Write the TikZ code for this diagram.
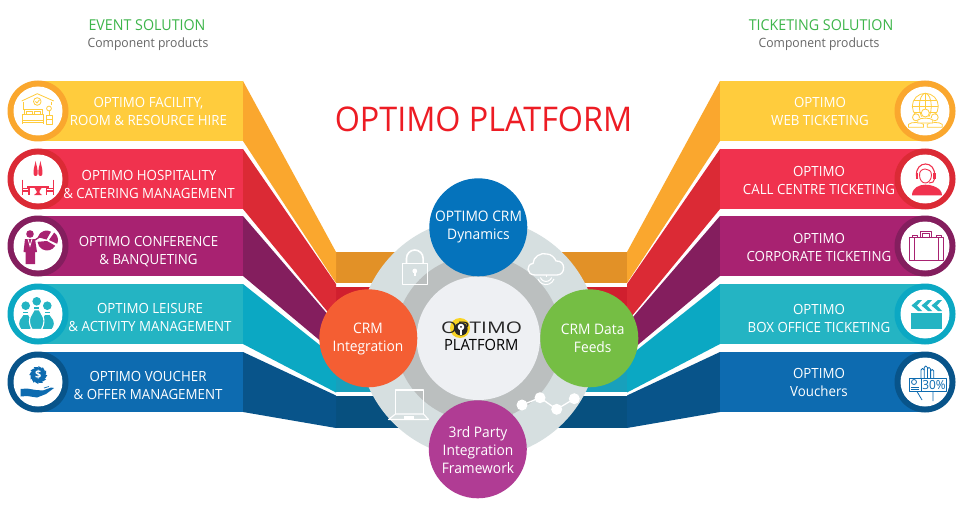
\documentclass[tikz,border=0pt]{standalone}
\usepackage{fontspec}
\setmainfont{Open Sans}
\newfontfamily\narrowfont[FakeStretch=0.95]{Open Sans}
\newfontfamily\logofont[FakeStretch=1.3]{Open Sans}
\usetikzlibrary{calc}
\definecolor{yband}{HTML}{FFCC3D}\definecolor{yside}{HTML}{FAA72E}\definecolor{yfront}{HTML}{E29127}
\definecolor{rband}{HTML}{F0324E}\definecolor{rside}{HTML}{DB2A35}\definecolor{rfront}{HTML}{D01F2E}
\definecolor{pband}{HTML}{A82271}\definecolor{pside}{HTML}{841E5E}\definecolor{pfront}{HTML}{7A1C58}
\definecolor{tband}{HTML}{24B4C3}\definecolor{tside}{HTML}{0BA8C3}\definecolor{tfront}{HTML}{18A0BC}
\definecolor{bband}{HTML}{0D6BB0}\definecolor{bside}{HTML}{08548A}\definecolor{bfront}{HTML}{07507F}
\definecolor{headgreen}{HTML}{3DB54A}\definecolor{headgray}{HTML}{666666}
\definecolor{titlered}{HTML}{ED1C24}
\definecolor{ringouter}{HTML}{D6DFE0}\definecolor{ringmid}{HTML}{BBBFBF}\definecolor{ringinner}{HTML}{EEF0F3}
\definecolor{sattop}{HTML}{0573BC}\definecolor{satleft}{HTML}{F45E33}\definecolor{satright}{HTML}{75BE44}\definecolor{satbottom}{HTML}{B03C94}
\definecolor{logoyellow}{HTML}{F9D423}
\tikzset{
  bandtext/.style={text=white,align=center,font=\narrowfont\fontsize{14}{18}\selectfont,inner sep=0pt},
  sattext/.style={text=white,align=center,font=\narrowfont\fontsize{14.5}{18}\selectfont,inner sep=0pt},
  headtitle/.style={text=headgreen,font=\narrowfont\fontsize{15}{17}\selectfont,inner sep=0pt},
  headsub/.style={text=headgray,font=\narrowfont\fontsize{12.8}{15}\selectfont,inner sep=0pt},
  iconline/.style={line width=0.8pt,line join=round},
}
\begin{document}
\begin{tikzpicture}[x=1pt,y=-1pt]
\useasboundingbox (0,0) rectangle (960,505);
\fill[white] (0,0) rectangle (960,505);
% ribbons, left then mirrored
\foreach \m/\xs/\xf in {0/0pt/1,1/963pt/-1}{
\begin{scope}[xshift=\xs,xscale=\xf]
\foreach \t/\st/\sb/\ft/\fb/\cc in {
  81/252/283/252/283/y,
  149/284/322/287/322/r,
  216/324/354/324/354/p,
  284/358/392.5/358/392/t,
  352/395.5/428/395.5/428/b}{
  \fill[\cc front] (336,\ft) rectangle (440,\fb);
  \fill[\cc side] (243,\t) -- (336,\st) -- (336,\sb) -- (243,\t+60) -- cycle;
  \fill[\cc band] (38,\t) rectangle (243,\t+60);
  \fill[\cc side] (38,\t+30) circle[radius=30.5];
  \fill[white] (38,\t+30) circle[radius=24.5];
}
\end{scope}}
% titles
\node[headtitle] (evt) at (147,25) {EVENT SOLUTION};
\node[headsub] (evtsub) at (148,44.5) {Component products};
\node[headtitle] (tkt) at (821,25) {TICKETING SOLUTION};
\node[headsub] (tktsub) at (819,44.5) {Component products};
\node[text=titlered,font=\narrowfont\fontsize{34}{36}\selectfont,inner sep=0pt] (title) at (483.5,119) {OPTIMO PLATFORM};
% band labels
\node[bandtext] (l1) at (148.5,111) {OPTIMO FACILITY,\\ROOM \& RESOURCE HIRE};
\node[bandtext] (l2) at (149,184.5) {OPTIMO HOSPITALITY\\\& CATERING MANAGEMENT};
\node[bandtext] (l3) at (148.5,252) {OPTIMO CONFERENCE\\\& BANQUETING};
\node[bandtext] (l4) at (150,317) {OPTIMO LEISURE\\\& ACTIVITY MANAGEMENT};
\node[bandtext] (l5) at (148,385) {OPTIMO VOUCHER\\\& OFFER MANAGEMENT};
\node[bandtext] (r1) at (820,111) {OPTIMO\\WEB TICKETING};
\node[bandtext] (r2) at (819,180.5) {OPTIMO\\CALL CENTRE TICKETING};
\node[bandtext] (r3) at (819,247) {OPTIMO\\CORPORATE TICKETING};
\node[bandtext] (r4) at (819,318) {OPTIMO\\BOX OFFICE TICKETING};
\node[bandtext] (r5) at (819,382) {OPTIMO\\Vouchers};
% hub
\fill[ringouter] (478.3,338.3) circle[radius=120];
\fill[ringmid] (478.3,338.3) circle[radius=83];
\fill[ringinner] (478.3,338.3) circle[radius=61.7];
\fill[sattop] (478.3,227.3) circle[radius=49];
\fill[satleft] (368.3,338.3) circle[radius=49];
\fill[satright] (589.3,338.3) circle[radius=49];
\fill[satbottom] (477.8,449.3) circle[radius=49];
\node[sattext] (s1) at (478.5,227) {OPTIMO CRM\\Dynamics};
\node[sattext] (s2) at (368,339) {CRM\\Integration};
\node[sattext] (s3) at (592.7,338) {CRM Data\\Feeds};
\node[sattext] (s4) at (478,450) {3rd Party\\Integration\\Framework};
% logo
\fill[logoyellow] (460,328) circle[radius=10];
\node[text=black!85,font=\logofont\fontsize{16}{18}\selectfont,inner sep=0pt] (logo) at (481.5,328) {OPTIMO};
\fill[black!85] (461,329) circle[radius=6.6];
\fill[white] (461,327) circle[radius=3.3];
\fill[white] (459.9,327) rectangle (462.1,335);
\fill[black!85] (461,326.8) circle[radius=1];
\node[text=black,font=\narrowfont\fontsize{15.5}{18}\selectfont,inner sep=0pt] (plat) at (481.3,344.5) {PLATFORM};
% lock
\draw[white,line width=1.1pt,line join=round] (402.3,263.3) rectangle (427.3,284.3);
\draw[white,line width=1.6pt] (406.5,263) -- (406.5,258.3) arc[start angle=180,end angle=360,radius=8.3] -- (423.1,263);
\fill[white] (414.8,271) circle[radius=2.4];
\fill[white] (413.6,271) rectangle (416,276);
% cloud
\draw[white,line width=1.3pt,line join=round] (535,275) .. controls (526,275) and (526,264) .. (533,263.5) .. controls (533,257) and (541,252) .. (547,254) .. controls (551,254) and (555,258) .. (556,261) .. controls (566,260) and (566,275) .. (557,275) -- cycle;
\draw[white,line width=1pt] (546,277) -- (546,275);
\draw[white,line width=1pt] (540.4,277.5) arc[start angle=160,end angle=20,radius=6];
\draw[white,line width=1pt] (538,279) arc[start angle=160,end angle=20,radius=8.5];
% laptop
\draw[white,line width=1.1pt,line join=round] (395.5,414) -- (395.5,390) -- (423.5,390) -- (423.5,414);
\draw[white,line width=1.1pt,line join=round] (395.5,414) -- (423.5,414) -- (428.5,419.5) -- (388.5,419.5) -- cycle;
\fill[white] (404,416) rectangle (414,419);
% network
\draw[white,line width=1.3pt] (522,405) -- (540,397.7) -- (556.7,409.3) -- (574.3,398.7);
\foreach \nx/\ny in {522/405,540/397.7,556.7/409.3,574.3/398.7}{\fill[white] (\nx,\ny) circle[radius=5.5];}
% icon hotel
\begin{scope}[draw=yband,iconline]
\draw (21.7,101) -- (37.3,93.7) -- (53.7,101);
\draw (23.5,102) -- (23.5,110);
\draw (51.5,102) -- (51.5,105);
\draw (37.3,101.5) circle[radius=3.8];
\draw (35.5,101.5) -- (37,103) -- (39.5,99.8);
\draw (24.5,114) -- (24.5,109) -- (42,109) -- (42,114);
\draw (26.5,114) rectangle (32,111);
\draw (34,114) rectangle (40,111);
\draw (22.5,114) rectangle (43.5,120);
\draw (22.5,120) -- (22.5,124.5) (43.5,120) -- (43.5,124.5) (22.5,122) -- (43.5,122);
\draw (49,108.5) circle[radius=2.4];
\draw (49,111) -- (49,115);
\draw (46,115.5) rectangle (52.5,124.5);
\draw (46,119.5) -- (52.5,119.5);
\end{scope}
% icon hospitality
\fill[rband] (35.6,161) .. controls (36.5,166) and (38,169) .. (37.6,174) arc[start angle=0,end angle=180,radius=2] .. controls (33.2,169) and (34.7,166) .. (35.6,161) -- cycle;
\fill[rband] (40.4,161) .. controls (41.3,166) and (42.8,169) .. (42.4,174) arc[start angle=0,end angle=180,radius=2] .. controls (38,169) and (39.5,166) .. (40.4,161) -- cycle;
\fill[rband] (26.7,185.7) rectangle (49,188.3);
\fill[rband] (34.5,188) -- (41.5,188) -- (39.5,191) -- (39.5,193) -- (42,195) -- (34,195) -- (36.5,193) -- (36.5,191) -- cycle;
\draw[rband,line width=1.2pt] (22.5,179.7) -- (22.5,195) (22.5,188.5) -- (29,188.5) -- (29,195) (22.5,191) -- (29,191);
\draw[rband,line width=1.2pt] (53.2,179.7) -- (53.2,195) (53.2,188.5) -- (46.7,188.5) -- (46.7,195) (53.2,191) -- (46.7,191);
% icon conference
\fill[pband] (30,234) circle[radius=3.8];
\fill[pband] (25,239) -- (35,239) -- (37,252) -- (35,252) -- (35,264) -- (25.5,264) -- (25.5,252) -- (23.5,252) -- cycle;
\draw[white,line width=0.8pt] (28,239) -- (30,246) -- (32,239);
\draw[pband,line width=1.3pt] (35,240) -- (41,236);
\fill[pband] (47,241) -- ++(30:9.5) arc[start angle=30,end angle=175,radius=9.5] -- cycle;
\fill[pband] (46.5,239.5) -- ++(195:9) arc[start angle=195,end angle=300,radius=9] -- cycle;
\fill[pband] (49,240) -- ++(305:9) arc[start angle=305,end angle=385,radius=9] -- cycle;
% icon bowling
\foreach \px/\py/\pb in {25.7/305.7/24,47.3/305.7/24,36.7/301.3/28}{
  \fill[tband] (\px,\py) circle[radius=4.3];
  \fill[tband] (\px-2.3,\py+5.8) rectangle (\px+2.3,\py+7.2);
  \filldraw[fill=tband,draw=white,line width=1.1pt] (\px-2.6,\py+8.5) .. controls (\px-3.5,\py+12) and (\px-11,\py+\pb*0.6) .. (\px-4.8,\py+\pb) -- (\px+4.8,\py+\pb) .. controls (\px+11,\py+\pb*0.6) and (\px+3.5,\py+12) .. (\px+2.6,\py+8.5) -- cycle;
}
% icon voucher left
\fill[bband] \foreach \a in {0,30,...,330}{ (38.3,375) ++(\a:9) -- ++(\a+120:4) -- (38.3,375) -- cycle };
\fill[bband] (38.3,375) circle[radius=7.3];
\node[text=white,font=\fontsize{11}{12}\selectfont\bfseries,inner sep=0pt] (dollar) at (38.3,375) {\$};
\fill[bband] (20.7,389) -- (27,388.5) -- (36,390) -- (43,390.5) -- (51,387.5) -- (54,388) -- (46,394) -- (37,397.5) -- (27,396) -- (20.7,396.5) -- cycle;
\draw[bband,line width=0.7pt] (44,388) -- (49,386.5);
% icon globe
\begin{scope}[draw=yband,line width=0.8pt]
\draw (925.3,106.3) circle[radius=13];
\draw (925.3,106.3) ellipse[x radius=6,y radius=13];
\draw (925.3,93.3) -- (925.3,119.3) (912.3,106.3) -- (938.3,106.3) (914,100) -- (936.6,100) (914,112.6) -- (936.6,112.6);
\foreach \hx/\hy/\hr in {916/117.3/3.5,934.7/117.3/3.5,925.3/113/4}{
  \fill[white] (\hx-8,\hy+10.5) -- (\hx-8,\hy+6) -- (\hx,\hy+2) -- (\hx+8,\hy+6) -- (\hx+8,\hy+10.5) -- cycle;
  \filldraw[fill=white] (\hx,\hy) circle[radius=\hr];
  \draw[fill=white] (\hx-7.5,\hy+10) -- (\hx-7.5,\hy+7) .. controls (\hx-5,\hy+4.5) and (\hx+5,\hy+4.5) .. (\hx+7.5,\hy+7) -- (\hx+7.5,\hy+10) -- cycle;
}
\end{scope}
% icon headset
\draw[rband,line width=1.1pt] (916.5,176) .. controls (915,160) and (936,160) .. (934.5,176);
\draw[rband,line width=0.9pt] (919.5,175) .. controls (919,167) and (931.5,167) .. (931.5,175) .. controls (931.5,180) and (928,183) .. (925.5,183) .. controls (922,183) and (919.5,180) .. (919.5,175);
\fill[rband] (915.5,173) rectangle (918,179);
\fill[rband] (933,173) rectangle (935.5,179);
\draw[rband,line width=1pt] (934.5,179) .. controls (934.5,182) and (932,183) .. (929,183);
\fill[rband] (912,195.3) .. controls (912,188) and (919,184.7) .. (925.3,184.7) .. controls (932,184.7) and (942,188) .. (942,195.3) -- cycle;
% icon briefcase
\begin{scope}[draw=pband,line width=1pt,line join=round]
\draw (909.5,237.5) rectangle (943.7,260);
\draw (914.7,237.5) -- (914.7,260) (938.2,237.5) -- (938.2,260);
\draw (920.3,237.5) -- (920.3,231.5) -- (931.5,231.5) -- (931.5,237.5) (922.5,237.5) -- (922.5,233.5) -- (929.3,233.5) -- (929.3,237.5);
\draw (912,237.5) -- (912,235.5) -- (917,235.5) -- (917,237.5);
\draw (936,237.5) -- (936,235.5) -- (941,235.5) -- (941,237.5);
\end{scope}
% icon clapper
\fill[tband] (911.3,312.5) rectangle (942,329);
\foreach \cx in {911.5,921.5,931.5}{
  \fill[tband] (\cx,305.5) -- (\cx+6.5,300) -- (\cx+10.5,300) -- (\cx+5.5,305.5) -- (\cx+10.5,311) -- (\cx+6.5,311) -- cycle;
}
% icon voucher right
\begin{scope}[draw=bband,line width=0.8pt,line join=round]
\draw (921,378) -- (921,370) arc[start angle=180,end angle=360,radius=1.6] -- (924.2,378);
\draw (924.2,370) -- (924.2,367.5) arc[start angle=180,end angle=360,radius=1.6] -- (927.4,378);
\draw (927.4,369) arc[start angle=180,end angle=360,radius=1.6] -- (930.6,378);
\draw (930.6,371) arc[start angle=180,end angle=360,radius=1.6] -- (933.8,378);
\draw (909.5,378) rectangle (946.5,391.5);
\draw (914,382) circle[radius=2.5];
\draw (921,378) -- (921,391.5);
\draw (911,387) -- (919,387) (911,389.5) -- (919,389.5);
\draw (917,391.5) -- (922,400) (933,391.5) -- (933,401);
\end{scope}
\node[text=bband,font=\narrowfont\fontsize{12.5}{12}\selectfont,inner sep=0pt] (off) at (934,385) {30\%};
\end{tikzpicture}
\end{document}
